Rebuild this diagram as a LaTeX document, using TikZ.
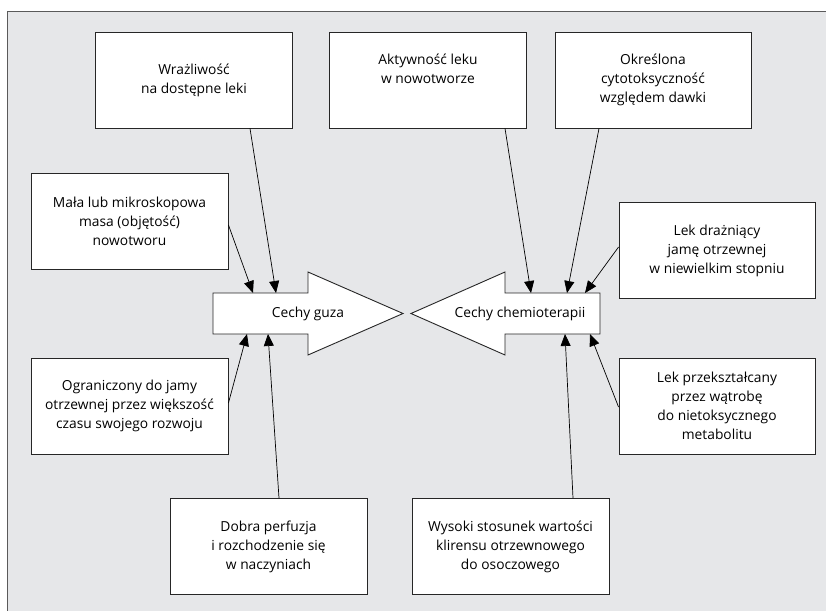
\documentclass[tikz,border=0pt]{standalone}
\usepackage{fontspec}
\setmainfont{Open Sans}
\usetikzlibrary{arrows.meta}
\definecolor{panel}{HTML}{E6E7E9}
\definecolor{frameline}{HTML}{5A5A5A}
\tikzset{
  factor/.style={draw=black!85,line width=0.9pt,fill=white,minimum width=197pt,
    minimum height=96pt,align=center,inner sep=2pt,
    font=\fontsize{13.8}{19}\selectfont},
  bigarrow/.style={draw=black!85,line width=0.9pt,fill=white},
  caption/.style={font=\fontsize{13.8}{19}\selectfont,inner sep=0pt},
  conn/.style={line width=0.7pt,-{Triangle[length=12pt,width=10pt]}}
}
\begin{document}
\begin{tikzpicture}[x=1pt,y=-1pt]
  \useasboundingbox (0,0) rectangle (826,610);
  \clip (0,0) rectangle (826,610);
  \fill[white] (0,0) rectangle (826,610);
  \draw[frameline,fill=panel,line width=1pt] (7,12) rectangle (840,625);

  % big arrows
  \draw[bigarrow] (213,293) -- (308,293) -- (308,272) -- (403,313.5)
    -- (308,355) -- (308,334) -- (213,334) -- cycle;
  \node[caption] (guza) at (308,313.5) {Cechy guza};
  \draw[bigarrow] (600,293) -- (505,293) -- (505,272) -- (411,313.5)
    -- (505,355) -- (505,334) -- (600,334) -- cycle;
  \node[caption] (chemio) at (520,313.5) {Cechy chemioterapii};

  \coordinate (guzaT1) at (253,293);
  \coordinate (guzaT2) at (276,293);
  \coordinate (guzaB1) at (247,334);
  \coordinate (guzaB2) at (268,334);
  \coordinate (chemT1) at (531,293);
  \coordinate (chemT2) at (567,293);
  \coordinate (chemT3) at (585,293);
  \coordinate (chemB1) at (565,334);
  \coordinate (chemB2) at (590,334);

  % factor boxes
  \node[factor] (wraz) at (194,80) {Wrażliwość\\na dostępne leki};
  \node[factor] (aktyw) at (428,80) {Aktywność leku\\w nowotworze\\[4pt]};
  \node[factor,minimum width=196pt] (okres) at (653,80) {Określona\\cytotoksyczność\\względem dawki};
  \node[factor] (mala) at (129.5,221) {Mała lub mikroskopowa\\masa (objętość)\\nowotworu};
  \node[factor,minimum width=196pt] (draz) at (717,250.5) {Lek drażniący\\jamę otrzewnej\\w niewielkim stopniu};
  \node[factor] (ogran) at (129.5,406) {Ograniczony do jamy\\otrzewnej przez większość\\czasu swojego rozwoju};
  \node[factor] (dobra) at (268.5,546.5) {Dobra perfuzja\\i rozchodzenie się\\w naczyniach};
  \node[factor,minimum width=196pt] (przeks) at (717,406) {Lek przekształcany\\przez wątrobę\\do nietoksycznego\\metabolitu};
  \node[factor] (wysoki) at (510.5,546.5) {Wysoki stosunek wartości\\klirensu otrzewnowego\\do osoczowego};

  % connectors
  \draw[conn] ([xshift=56pt]wraz.south) -- (guzaT2);
  \draw[conn] ([yshift=-4pt]mala.east) -- (guzaT1);
  \draw[conn] ([yshift=3pt]ogran.east) -- (guzaB1);
  \draw[conn] ([xshift=10.5pt]dobra.north) -- (guzaB2);
  \draw[conn] ([xshift=77pt]aktyw.south) -- (chemT1);
  \draw[conn] ([xshift=-54pt]okres.south) -- (chemT2);
  \draw[conn] ([yshift=3.5pt]draz.west) -- (chemT3);
  \draw[conn] ([xshift=62.5pt]wysoki.north) -- (chemB1);
  \draw[conn] ([yshift=-1pt]przeks.west) -- (chemB2);
\end{tikzpicture}
\end{document}
